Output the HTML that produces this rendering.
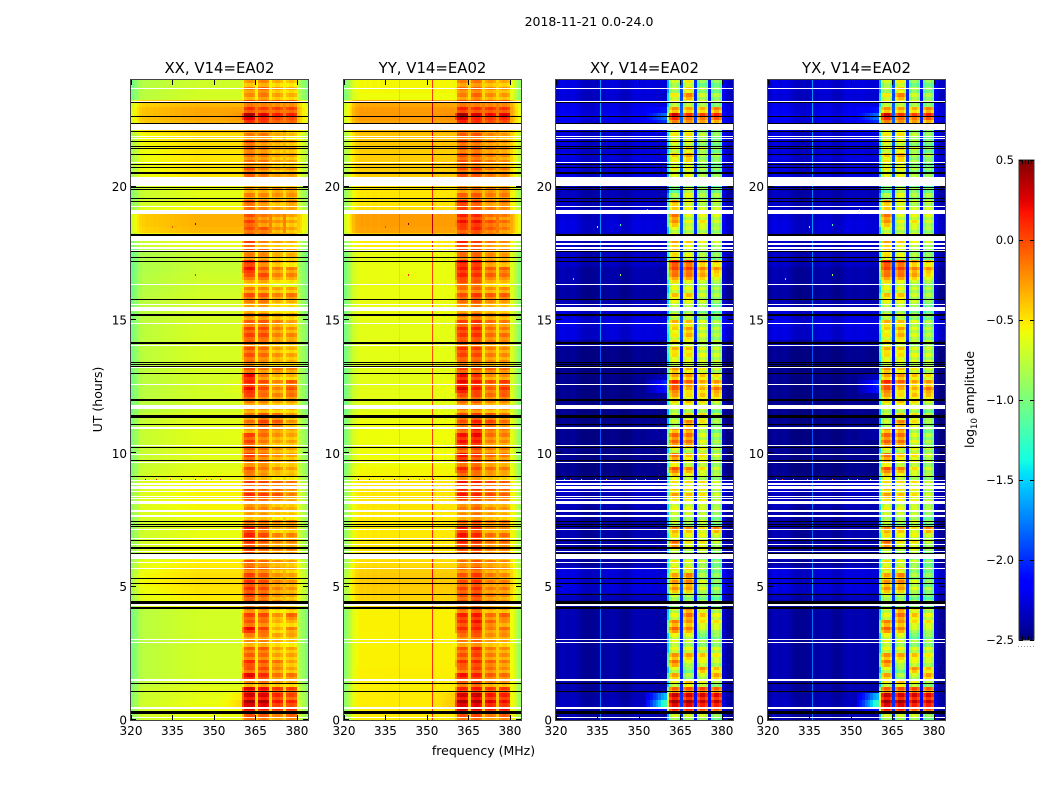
<!DOCTYPE html>
<html lang="en">
<head>
<meta charset="utf-8">
<title>2018-11-21 0.0-24.0</title>
<style>
html,body{margin:0;padding:0;background:#fff;width:1050px;height:800px;overflow:hidden}
svg{display:block}
text{font-family:"DejaVu Sans","Liberation Sans",sans-serif;fill:#000}
</style>
</head>
<body>
<svg id="chart" xmlns="http://www.w3.org/2000/svg" width="1050" height="800" viewBox="0 0 1050 800">
<rect x="0" y="0" width="1050" height="800" fill="#fff"/>
<text x="589" y="26" font-size="12.5" text-anchor="middle">2018-11-21 0.0-24.0</text>
<text x="483.5" y="755" font-size="12.5" text-anchor="middle">frequency (MHz)</text>
<text transform="translate(102,399.5) rotate(-90)" font-size="12.5" text-anchor="middle">UT (hours)</text>
<text transform="translate(974,399.5) rotate(-90)" font-size="12.5" text-anchor="middle">log<tspan dy="3" font-size="8.5">10</tspan><tspan dy="-3"> amplitude</tspan></text>
</svg>
<script>
// ---------- axis ticks and labels ----------
const panelTitles = ["XX, V14=EA02", "YY, V14=EA02", "XY, V14=EA02", "YX, V14=EA02"];
const freqTicks = [320, 335, 350, 365, 380];
const hourTicks = [0, 5, 10, 15, 20];
const colorbarTicks = [0.5, 0.0, -0.5, -1.0, -1.5, -2.0, -2.5];
const colorbarLabels = ["0.5", "0.0", "\u22120.5", "\u22121.0", "\u22121.5", "\u22122.0", "\u22122.5"];

// ---------- off-band log10 amplitude, one value per quarter hour (0h to 24h) ----------
const xxBgLevel = [
-.6,-.6,-.6,-.62,   -.62,-.65,-.68,-.68,  -.68,-.68,-.68,-.68,  -.68,-.68,-.68,-.68,
-.68,-.55,-.52,-.5, -.48,-.48,-.5,-.52,   -.58,-.58,-.58,-.6,   -.6,-.6,-.58,-.55,
-.55,-.55,-.55,-.55,-.6,-.62,-.63,-.63,   -.63,-.63,-.63,-.63,  -.63,-.63,-.68,-.68,
-.68,-.68,-.68,-.68,-.67,-.67,-.67,-.67,  -.67,-.67,-.67,-.67,  -.68,-.68,-.68,-.68,
-.7,-.7,-.7,-.72,   -.72,-.72,-.72,-.62,  -.5,-.35,-.33,-.33,   -.55,-.6,-.62,-.62,
-.6,-.5,-.5,-.5,    -.5,-.5,-.48,-.48,    -.4,-.32,-.3,-.3,     -.35,-.68,-.68,-.7];
const yyBgLevel = [
-.52,-.52,-.52,-.52,-.53,-.53,-.53,-.53,  -.54,-.54,-.54,-.54,  -.54,-.54,-.54,-.54,
-.54,-.46,-.44,-.42,-.41,-.41,-.43,-.47,  -.5,-.5,-.51,-.51,    -.51,-.51,-.51,-.5,
-.5,-.5,-.5,-.5,    -.55,-.56,-.58,-.58,  -.58,-.58,-.58,-.58,  -.58,-.58,-.62,-.62,
-.62,-.62,-.62,-.62,-.62,-.62,-.62,-.62,  -.62,-.62,-.62,-.62,  -.6,-.6,-.6,-.6,
-.6,-.6,-.6,-.6,    -.6,-.6,-.58,-.52,    -.42,-.28,-.27,-.27,  -.47,-.5,-.5,-.5,
-.5,-.42,-.42,-.42, -.42,-.42,-.4,-.4,    -.35,-.28,-.26,-.26,  -.3,-.58,-.56,-.56];
const xyBgLevel = [
-2.42,-2.4,-2.38,-2.4, -2.42,-2.42,-2.42,-2.42, -2.42,-2.42,-2.42,-2.42, -2.42,-2.42,-2.42,-2.42,
-2.42,-2.42,-2.38,-2.3, -2.3,-2.3,-2.3,-2.42,   -2.42,-2.42,-2.42,-2.42, -2.42,-2.42,-2.42,-2.42,
-2.38,-2.38,-2.35,-2.35,-2.5,-2.5,-2.5,-2.5,    -2.5,-2.5,-2.5,-2.5,     -2.5,-2.5,-2.5,-2.5,
-2.5,-2.5,-2.5,-2.5,   -2.5,-2.5,-2.5,-2.5,     -2.42,-2.3,-2.3,-2.28,   -2.3,-2.32,-2.4,-2.45,
-2.45,-2.42,-2.42,-2.42,-2.36,-2.36,-2.36,-2.36,-2.36,-2.3,-2.3,-2.32,   -2.36,-2.36,-2.38,-2.38,
-2.38,-2.3,-2.3,-2.3,  -2.3,-2.3,-2.3,-2.3,     -2.3,-2.26,-2.24,-2.26,  -2.28,-2.32,-2.3,-2.3];

// ---------- sub-band log10 amplitude (361-365, 366-370, 371-375, 376-380 MHz), per quarter hour ----------
const xxBand1 = [
-.1,.18,.32,.2,   .18,-.3,.15,-.1,  .02,-.15,-.15,-.3, -.25,.12,-.1,-.05,
-.2,-.1,-.05,0,   0,-.05,-.15,-.1,  -.3,0,0,.05,       .05,-.15,-.35,-.25,
-.2,0,-.05,-.05,  -.25,-.1,-.2,-.05,-.1,-.05,-.05,-.3, -.2,-.25,-.3,-.25,
-.05,.12,.05,.12, -.1,-.2,-.1,-.1,  -.15,-.05,-.05,-.15,-.25,-.3,-.25,-.1,
-.25,-.4,-.1,.1,  .05,-.25,-.15,-.05,-.15,-.1,-.05,-.1, -.2,-.1,-.25,-.3,
-.3,-.15,-.1,-.2, -.2,-.15,-.1,-.25,-.2,0,.3,0,        -.1,-.3,-.25,-.35];
const xxBand2 = [
-.1,.12,.32,.2,   .15,-.2,.05,-.05, -.05,-.15,-.1,-.25,-.2,-.03,-.15,-.05,
-.2,-.1,-.1,-.05, -.05,-.1,-.15,-.15,-.3,-.1,-.1,-.05, -.1,-.15,-.3,-.25,
-.2,-.02,-.1,-.05,-.3,-.2,-.15,-.15,-.15,-.2,-.15,-.1, -.02,-.1,-.3,-.25,
-.15,-.05,-.05,-.2,-.2,-.25,-.15,-.15,-.2,-.05,-.05,-.1,-.2,-.3,-.2,-.1,
-.25,-.35,-.05,-.1,-.15,-.25,-.15,-.25,-.2,-.1,-.2,-.2, -.25,-.2,-.25,-.25,
-.3,-.2,-.2,-.2,  -.2,-.2,-.2,-.2,  -.2,0,.18,-.02,    -.1,-.2,-.15,-.25];
const xxBand3 = [
-.2,.1,.15,.1,    .05,-.3,-.15,-.2, -.15,-.3,-.3,-.35, -.3,-.35,-.35,-.25,
-.4,-.2,-.25,-.2, -.2,-.25,-.3,-.25,-.35,-.15,-.2,-.2,  -.35,-.2,-.4,-.3,
-.3,-.05,-.1,-.1, -.4,-.25,-.3,-.25,-.25,-.3,-.25,-.2,  -.05,-.15,-.35,-.3,
-.2,-.2,-.2,-.35, -.15,-.35,-.25,-.3,-.3,-.2,-.2,-.2,   -.3,-.4,-.35,-.2,
-.3,-.5,-.2,-.2,  -.3,-.35,-.25,-.3,-.3,-.25,-.25,-.25, -.3,-.3,-.25,-.2,
-.3,-.3,-.3,-.3,  -.3,-.3,-.25,-.35,-.25,-.1,.12,0,     -.1,-.3,-.3,-.35];
const xxBand4 = [
-.1,.1,.1,0,      .02,-.35,-.15,-.3,-.3,-.3,-.3,-.4,    -.3,-.2,-.35,-.1,
-.35,-.3,-.3,-.25,-.25,-.3,-.35,-.3,-.35,-.15,-.2,-.2,  -.3,-.2,-.4,-.35,
-.3,-.2,-.2,-.15, -.4,-.3,-.3,-.3, -.3,-.3,-.3,-.25,    -.25,-.3,-.35,-.3,
-.15,-.05,-.05,-.35,-.2,-.35,-.3,-.35,-.3,-.2,-.25,-.3, -.35,-.4,-.35,-.15,
-.3,-.5,-.2,-.2,  -.4,-.35,-.3,-.35,-.35,-.3,-.3,-.3,   -.3,-.2,-.25,-.2,
-.3,-.3,-.25,-.3, -.3,-.3,-.3,-.4, -.3,-.1,.1,0,        -.1,-.35,-.35,-.4];
const yyBand1 = [
-.1,.25,.3,.2,    .05,-.15,.1,-.15, 0,-.1,-.1,-.25,     -.2,.02,0,.05,
-.15,-.1,-.1,-.05,-.08,-.12,-.2,-.2,-.25,-.05,.05,.1,   .05,-.15,-.3,-.25,
-.2,.08,.05,.08,  -.2,.05,-.1,.1,  -.1,.1,.1,-.1,       -.1,-.1,-.25,-.2,
-.1,.18,.15,.12,  -.05,-.15,-.05,0,-.1,-.02,.02,-.05,   -.2,-.25,-.2,-.1,
-.2,-.1,.05,.08,  .12,-.2,-.1,.05, -.1,-.05,.1,.05,     -.05,.05,-.15,-.25,
-.2,-.1,-.1,-.1,  -.1,-.15,-.1,-.15,-.1,.05,.32,.05,    -.1,-.25,-.2,-.25];
const yyBand2 = [
-.05,.22,.3,.25,  .1,-.05,.08,-.02,.05,-.02,.05,-.15,   -.1,.08,.12,.1,
-.05,-.02,0,.02,  .02,0,-.08,-.1,  -.2,0,.02,.05,       .02,-.05,-.2,-.15,
-.1,.05,.02,.05,  -.2,-.05,-.05,0, -.05,.1,.15,.12,     .08,-.02,-.2,-.15,
-.05,.08,.1,.02,  -.1,-.15,-.05,-.02,-.1,.02,.05,.02,   -.12,-.2,-.1,0,
-.15,-.1,.02,.05, .1,-.15,-.05,-.02,-.1,.05,.12,.05,    -.1,-.02,-.1,-.15,
-.2,-.1,-.05,-.1, -.1,-.1,-.1,-.1, -.1,.02,.2,.02,      -.1,-.15,-.15,-.2];
const yyBand3 = [
-.2,.12,.2,.12,   .02,-.25,-.1,-.15,-.1,-.2,-.2,-.3,    -.25,-.2,-.12,-.15,
-.3,-.2,-.2,-.2,  -.2,-.2,-.25,-.2,-.3,-.15,-.15,-.15,  -.25,-.2,-.3,-.25,
-.25,-.05,-.05,-.05,-.3,-.15,-.2,-.15,-.2,-.2,-.15,-.1,  -.02,-.1,-.3,-.25,
-.15,-.1,-.05,-.25,-.1,-.25,-.2,-.2,-.2,-.15,-.15,-.15, -.25,-.3,-.25,-.1,
-.25,-.35,-.1,-.1,-.2,-.25,-.2,-.2,-.2,-.1,-.05,-.15,   -.2,-.2,-.2,-.15,
-.25,-.2,-.2,-.2, -.2,-.2,-.2,-.25,-.2,-.05,.15,.02,    -.1,-.25,-.25,-.3];
const yyBand4 = [
-.1,.18,.15,.1,   .02,-.3,-.15,-.25,-.2,-.25,-.25,-.35, -.25,-.15,-.25,-.1,
-.3,-.25,-.25,-.2,-.2,-.25,-.3,-.25,-.3,-.15,-.12,-.15, -.25,-.15,-.35,-.3,
-.25,-.12,-.12,-.1,-.35,-.2,-.25,-.2,-.2,-.25,-.2,-.15,  -.15,-.2,-.3,-.25,
-.1,.02,.02,-.25, -.15,-.25,-.25,-.25,-.25,-.15,-.2,-.2, -.3,-.35,-.3,-.1,
-.25,-.4,-.15,-.1,-.3,-.3,-.25,-.25,-.3,-.2,-.15,-.2,   -.25,-.15,-.2,-.15,
-.25,-.25,-.2,-.25,-.25,-.25,-.25,-.3,-.25,-.05,.2,.02, -.1,-.3,-.3,-.35];
const xyBand1 = [
-.8,.1,.3,.2,     -.2,-.7,-.4,-.75, -.25,-.35,-.7,-.7,  -.7,-.2,-.3,-.7,
-.75,-.9,-.8,-.35,-.35,-.4,-.6,-.6, -.8,-.7,-.2,-.6,    -.3,-.8,-.8,-.7,
-.65,-.4,-.5,-.6, -.55,-.15,-.5,-.25,-.7,-.2,-.2,-.35,  -.8,-.8,-.8,-.6,
-.4,-.15,0,-.4,   -.35,-.7,-.6,-.45,-.6,-.65,-.55,-.45, -.75,-.85,-.7,-.5,
-.7,-.6,-.25,-.1, 0,-.6,-.5,-.4,   -.7,-.75,-.35,-.25,  -.55,-.4,-.9,-1.1,
-.9,-.75,-.65,-.65,-.55,-.7,-.65,-.65,-.55,-.3,.15,-.35,-.7,-.65,-.85,-.8];
const xyBand2 = [
-.8,.05,.3,.15,   -.15,-.5,-.9,-1,  -.75,-.4,-.7,-.8,   -.75,-.3,-.35,-.25,
-.3,-.9,-.9,-.4,  -.3,-.3,-.6,-.7,  -.8,-.8,-.6,-.7,    -.35,-.9,-.8,-.7,
-.7,-.5,-.6,-.6,  -.7,-.3,-.7,-.5,  -.8,-.25,-.25,-.3,  -.3,-.6,-.8,-.5,
-.6,-.45,-.2,-.35,-.5,-.7,-.6,-.5,  -.7,-.45,-.4,-.5,   -.75,-.85,-.7,-.5,
-.7,-.7,-.25,-.1, -.1,-.7,-.75,-.55,-.75,-.8,-.7,-.75,  -.7,-.65,-.7,-.75,
-.9,-.7,-.65,-.6, -.4,-.55,-.7,-.6, -.55,-.35,-.05,-.4, -.7,-.3,-.55,-.65];
const xyBand3 = [
-.9,-.2,.1,.05,   -.2,-.8,-.9,-.45, -.8,-.6,-.85,-1,    -1.2,-.9,-.7,-.6,
-.7,-1,-1.1,-.85, -.85,-1,-1,-.9,   -1,-.8,-.7,-.8,     -.7,-.9,-.9,-.9,
-.75,-.7,-.7,-.7, -.9,-.7,-.8,-.7,  -.8,-.8,-.85,-.9,   -.7,-.7,-.9,-.7,
-.6,-.55,-.5,-.6, -.75,-.85,-.8,-.85,-.95,-.85,-.85,-.85,-1,-1.1,-.9,-.9,
-.9,-.9,-.5,-.4,  -.5,-1,-1,-.8,    -.8,-.9,-.7,-.8,    -.9,-.9,-1,-1,
-1.1,-1,-1,-1,    -1,-.9,-1,-.95,   -.95,-.5,-.2,-.55,  -.85,-.9,-1,-1.1];
const xyBand4 = [
-1.1,-.2,.1,0,    -.3,-1,-.5,-.6,   -.9,-.75,-.85,-1,   -1.1,-.9,-.7,-.8,
-.9,-1.1,-1.2,-1, -1.1,-1.1,-1.1,-1.1,-1.2,-1,-.9,-.9,  -.4,-1.1,-1.1,-1,
-.9,-.9,-.9,-.9,  -1,-.9,-.95,-.9,  -.95,-1,-1,-1.1,    -1,-.95,-1.1,-.9,
-.6,-.35,-.45,-.7,-.9,-.9,-.9,-.9,  -.95,-1,-.95,-1,    -1.1,-1.2,-1.1,-1,
-1,-1,-.7,-.45,   -.6,-1.1,-1.1,-.9,-1,-1,-.9,-.85,     -.9,-.9,-1,-1.1,
-1.2,-1.1,-1.1,-1.1,-1,-1.1,-1.1,-1.1,-1,-.55,-.1,-.4,  -1,-1,-1.1,-1.1];

// ---------- per-channel offsets (one value per MHz channel, 320 to 383 MHz) ----------
const xxProfile = [
-.35,-.25,-.18,-.12,-.1,-.08,-.08,-.08,-.07,-.07,-.06,-.06,-.05,-.05,-.04,-.04,
-.03,-.03,-.02,-.02,-.02,-.01,-.01,0,0,0,0,0,0,0,0,0,
0,0,0,0,0,0,0,0,0,0,0,0,0,.15,0,0,
0,0,.15,0,0,0,0,.15,0,0,0,0,-.08,-.14,-.22,-.32];
const yyProfile = [
-.4,-.3,-.2,-.1,-.03,-.01,0,-.01,0,-.01,0,0,-.01,0,0,0,
0,0,0,0,0,0,0,0,0,0,0,0,0,0,0,0,
0,0,0,0,0,0,0,0,0,0,0,0,0,.12,0,0,
0,0,.12,0,0,0,0,.12,0,0,0,0,-.04,-.12,-.22,-.34];
const xyProfile = [
-.02,.06,.08,.06,.04,.06,.07,.04,.02,-.02,-.02,-.03,-.03,-.02,-.02,0,
0,0,.03,.03,.05,.03,.03,0,-.02,-.02,0,.04,.05,.06,.05,.04,
.06,.05,.05,.04,.03,.03,.03,.03,0,0,0,0,0,.4,0,0,
0,0,.3,0,0,0,0,.22,0,0,0,0,.12,.03,0,-.03];
const bandShapeCo = [-.02, .03, .03, -.03];
const bandShapeCross = [-.12, .05, .05, -.1];
const stripeCo = [.07, -.07];
const stripeCross = [.09, -.09];
const bandShiftXX = [0, -.03, -.06, -.06];
const bandShiftYY = [0, -.02, -.04, -.04];
const bandShiftCross = [0, 0, .1, .1];

// ---------- thin single-frequency lines ----------
const thinFreqCo = [];
const thinRiseCo = [];
const thinFreqYY = [340, 351.9];
const thinRiseYY = [.14, .62];
const thinFreqCross = [336];
const thinRiseCross = [.62];

// ---------- shoulder rising toward the 361 MHz band edge ----------
const shoulderByRow = [
0,.3,1.1,.8, 0,0,0,0, 0,0,0,0, 0,0,0,0,
0,0,0,0, 0,0,0,0, 0,0,0,0, 0,0,0,0,
0,0,0,0, 0,0,0,0, 0,0,.08,.08, 0,0,0,0,
.08,.4,.45,.15, 0,0,0,0, 0,0,0,0, 0,0,0,0,
0,0,0,0, 0,0,0,0, 0,0,0,0, 0,0,0,0,
0,0,0,0, 0,0,0,0, .1,.25,.4,.15, 0,0,0,0];
const shoulderShape = [.15, .25, .35, .5, .6, .75, .9, 1.0];

// ---------- flagged time ranges in hours ----------
const whiteStart = [23.66,23.18,22.14,21.86,21.79,20.89,20.04,19.22,18.99,17.96,17.83,17.68,17.60,16.32,15.55,15.33,14.85,14.03,13.20,12.55,11.66,10.93,10.28,9.94,9.64,8.96,8.83,8.65,8.54,8.36,8.30,8.11,7.79,7.63,7.14,6.79,6.55,6.30,6.04,5.88,5.65,4.28,3.00,2.89,1.46,0.42,0.08];
const whiteEnd   = [23.70,23.21,22.35,21.90,21.83,20.93,20.37,19.26,19.14,18.14,17.87,17.72,17.63,16.36,15.59,15.49,14.89,14.06,13.24,12.59,11.80,10.97,10.31,9.98,9.68,9.00,8.87,8.79,8.58,8.40,8.34,8.20,7.88,7.67,7.18,6.83,6.60,6.34,6.24,5.93,5.70,4.35,3.04,2.93,1.52,0.47,0.11];
const blackHour  = [23.16,22.64,22.38,22.08,21.70,21.51,21.44,21.21,20.82,20.73,20.52,19.96,19.90,19.56,19.46,18.19,17.58,17.36,17.21,15.78,15.19,14.14,13.40,13.32,13.25,13.00,12.01,11.97,11.37,11.09,10.23,9.74,9.14,7.44,7.32,7.25,6.74,6.45,6.25,5.31,5.13,4.71,4.41,4.21,1.38,1.06,0.29];
const blackSpan  = [.04,.04,.04,.04,.04,.04,.04,.04,.04,.04,.075,.04,.04,.04,.04,.075,.04,.04,.04,.04,.075,.06,.04,.04,.04,.04,.04,.04,.11,.04,.04,.04,.04,.04,.04,.04,.04,.04,.04,.04,.04,.04,.11,.075,.04,.04,.11];

// ---------- isolated bright samples ----------
const speckHourCo  = [9.03,9.03,9.03,9.03,9.03,9.03,9.03,9.03,18.64,18.53,16.72,15.5];
const speckFreqCo  = [325,329,334,338,343,347,349,352,343,335,343,343];
const speckValueCo = [.5,.3,0,.5,.5,0,0,.2,.5,0,.1,0];
const speckHourCross  = [9.03,9.03,9.03,9.03,9.03,9.03,9.03,9.03,9.03,15.5,18.53,18.6,16.58,16.72,19.15];
const speckFreqCross  = [323,325,329,334,338,343,349,352,357,343,335,343,326,343,353];
const speckValueCross = [-1.3,0,-.9,-1.2,-.5,-.1,-1.2,-.6,-.6,-.5,-.6,-1.2,-1.3,-.9,-1.3];

// ---------- layout ----------
const panelLeft = [131, 344, 556, 768];
const panelWidth = 177, axisTop = 80, axisBottom = 720;
const freqMin = 320, freqMax = 384, hourMin = 0, hourMax = 24;
const vMin = -2.5, vMax = 0.5;
const cbLeft = 1019, cbRight = 1034, cbTop = 160, cbBottom = 640;
const NS = "http://www.w3.org/2000/svg";
const svg = document.getElementById("chart");

function xScale(p, f) { return panelLeft[p] + (f - freqMin) / (freqMax - freqMin) * panelWidth; }
function yScale(h) { return axisBottom - (h - hourMin) / (hourMax - hourMin) * (axisBottom - axisTop); }
function cbScale(v) { return cbTop + (vMax - v) / (vMax - vMin) * (cbBottom - cbTop); }

function ramp(t, pts) {
  for (let i = 1; i < pts.length; i++) {
    if (t <= pts[i][0]) {
      const a = pts[i - 1], b = pts[i];
      return a[1] + (b[1] - a[1]) * (t - a[0]) / (b[0] - a[0]);
    }
  }
  return pts[pts.length - 1][1];
}
function jet(v) {
  const t = Math.max(0, Math.min(1, (v - vMin) / (vMax - vMin)));
  const r = ramp(t, [[0,0],[.35,0],[.66,1],[.89,1],[1,.5]]);
  const g = ramp(t, [[0,0],[.125,0],[.375,1],[.64,1],[.91,0],[1,0]]);
  const b = ramp(t, [[0,.5],[.11,1],[.34,1],[.65,0],[1,0]]);
  return "rgb(" + Math.round(r * 255) + "," + Math.round(g * 255) + "," + Math.round(b * 255) + ")";
}
function make(tag, attrs, parent) {
  const el = document.createElementNS(NS, tag);
  for (const k in attrs) el.setAttribute(k, attrs[k]);
  parent.appendChild(el);
  return el;
}

const panels = [
  { bg: xxBgLevel, bands: [xxBand1, xxBand2, xxBand3, xxBand4], shift: bandShiftXX, profile: xxProfile, shape: bandShapeCo, stripe: stripeCo, edgeDrop: .3, shoulder: .12, thinF: thinFreqCo, thinR: thinRiseCo, sh: speckHourCo, sf: speckFreqCo, sv: speckValueCo },
  { bg: yyBgLevel, bands: [yyBand1, yyBand2, yyBand3, yyBand4], shift: bandShiftYY, profile: yyProfile, shape: bandShapeCo, stripe: stripeCo, edgeDrop: .3, shoulder: .1, thinF: thinFreqYY, thinR: thinRiseYY, sh: speckHourCo, sf: speckFreqCo, sv: speckValueCo },
  { bg: xyBgLevel, bands: [xyBand1, xyBand2, xyBand3, xyBand4], shift: bandShiftCross, profile: xyProfile, shape: bandShapeCross, stripe: stripeCross, edgeDrop: .8, shoulder: 1, thinF: thinFreqCross, thinR: thinRiseCross, sh: speckHourCross, sf: speckFreqCross, sv: speckValueCross },
  { bg: xyBgLevel, bands: [xyBand1, xyBand2, xyBand3, xyBand4], shift: bandShiftCross, profile: xyProfile, shape: bandShapeCross, stripe: stripeCross, edgeDrop: .8, shoulder: 1, thinF: thinFreqCross, thinR: thinRiseCross, sh: speckHourCross, sf: speckFreqCross, sv: speckValueCross }
];

function drawCell(parent, p, ch, h0, h1, v) {
  const x0 = Math.round(xScale(p, freqMin + ch)), x1 = Math.round(xScale(p, freqMin + ch + 1));
  const y0 = Math.round(yScale(h1)), y1 = Math.round(yScale(h0));
  const c = document.createElementNS(NS, "rect");
  c.setAttribute("x", x0);
  c.setAttribute("y", y0);
  c.setAttribute("width", x1 - x0);
  c.setAttribute("height", y1 - y0);
  c.setAttribute("fill", jet(v));
  
  
  parent.appendChild(c);
}

panels.forEach(function (P, p) {
  const g = document.createElementNS(NS, "g");
  
  
  g.setAttribute("shape-rendering", "crispEdges");
  const rows = P.bg.length;
  const rowHours = (hourMax - hourMin) / rows;
  for (let r = 0; r < rows; r++) {
    const h0 = hourMin + r * rowHours, h1 = h0 + rowHours;
    for (let ch = 0; ch < freqMax - freqMin; ch++) {
      let band = -1, pos = 0;
      if (ch >= 41 && ch < 60 && (ch - 41) % 5 !== 4) { band = Math.floor((ch - 41) / 5); pos = (ch - 41) % 5; }
      if (band >= 0) {
        const hm = (h0 + h1) / 2;
        const level = P.bands[band][r] + P.shift[band] + P.shape[pos];
        drawCell(g, p, ch, hm, h1, level + P.stripe[0]);
        drawCell(g, p, ch, h0, hm, level + P.stripe[1]);
      } else if (ch === 40) {
        drawCell(g, p, ch, h0, h1, Math.max(P.bg[r] + P.profile[ch], P.bands[0][r] - P.edgeDrop));
      } else {
        let v = P.bg[r] + P.profile[ch];
        if (ch >= 32 && ch < 40) v += shoulderByRow[r] * P.shoulder * shoulderShape[ch - 32];
        drawCell(g, p, ch, h0, h1, v);
      }
    }
    // thin single-frequency lines
    P.thinF.forEach(function (f, i) {
      const y0 = Math.round(yScale(h1)), y1 = Math.round(yScale(h0));
      const t = document.createElementNS(NS, "rect");
      t.setAttribute("x", Math.round(xScale(p, f)));
      t.setAttribute("y", y0);
      t.setAttribute("width", 1);
      t.setAttribute("height", y1 - y0);
      t.setAttribute("fill", jet(P.bg[r] + P.thinR[i]));
      
      
      g.appendChild(t);
    });
  }
  // isolated samples
  P.sh.forEach(function (h, i) {
    const s = document.createElementNS(NS, "rect");
    s.setAttribute("x", Math.round(xScale(p, P.sf[i])));
    s.setAttribute("y", Math.round(yScale(h)));
    s.setAttribute("width", 1);
    s.setAttribute("height", 2);
    s.setAttribute("fill", jet(P.sv[i]));
    
    
    g.appendChild(s);
  });
  // flagged white gaps
  whiteStart.forEach(function (h, i) {
    const y0 = Math.round(yScale(whiteEnd[i])), y1 = Math.round(yScale(h));
    const w = document.createElementNS(NS, "rect");
    w.setAttribute("x", panelLeft[p]);
    w.setAttribute("y", y0);
    w.setAttribute("width", panelWidth);
    w.setAttribute("height", Math.max(1, y1 - y0));
    w.setAttribute("fill", "#fff");
    
    
    g.appendChild(w);
  });
  // black zero-amplitude lines
  blackHour.forEach(function (h, i) {
    const y0 = Math.round(yScale(h + blackSpan[i] / 2)), y1 = Math.round(yScale(h - blackSpan[i] / 2));
    const b = document.createElementNS(NS, "rect");
    b.setAttribute("x", panelLeft[p]);
    b.setAttribute("y", y0);
    b.setAttribute("width", panelWidth);
    b.setAttribute("height", Math.max(1, y1 - y0));
    b.setAttribute("fill", "#000");
    
    
    g.appendChild(b);
  });
  // ticks
  freqTicks.forEach(function (f) {
    const x = Math.round(xScale(p, f)) + .5;
    const t1 = make("line", { x1: x, x2: x, y1: axisTop, y2: axisTop + 5, stroke: "#000", "stroke-width": 1 }, g);
    
    
    const t2 = make("line", { x1: x, x2: x, y1: axisBottom - 5, y2: axisBottom, stroke: "#000", "stroke-width": 1 }, g);
    
    
  });
  hourTicks.forEach(function (h) {
    const y = Math.round(yScale(h)) - .5;
    const l = panelLeft[p], rr = panelLeft[p] + panelWidth;
    const t1 = make("line", { x1: l, x2: l + 5, y1: y, y2: y, stroke: "#000", "stroke-width": 1 }, g);
    
    
    const t2 = make("line", { x1: rr - 5, x2: rr, y1: y, y2: y, stroke: "#000", "stroke-width": 1 }, g);
    
    
  });
  const frame = make("rect", { x: panelLeft[p] - .5, y: axisTop - .5, width: panelWidth + 1, height: axisBottom - axisTop + 1, fill: "none", stroke: "#444", "stroke-width": 1 }, g);
  
  
  svg.appendChild(g);

  // labels
  const title = make("text", { x: panelLeft[p] + panelWidth / 2, y: 73, "font-size": 14.9, "text-anchor": "middle" }, svg);
  title.textContent = panelTitles[p];
  
  
  freqTicks.forEach(function (f) {
    const t = make("text", { x: xScale(p, f), y: 735, "font-size": 12, "text-anchor": "middle" }, svg);
    t.textContent = String(f);
    
    
  });
  hourTicks.forEach(function (h) {
    const t = make("text", { x: panelLeft[p] - 4, y: yScale(h) + 4.5, "font-size": 12, "text-anchor": "end" }, svg);
    t.textContent = String(h);
    
    
  });
});

// ---------- colorbar ----------
const defs = make("defs", {}, svg);
const grad = make("linearGradient", { id: "jetGradient", x1: 0, y1: 0, x2: 0, y2: 1 }, defs);
const stopCount = 64;
for (let i = 0; i <= stopCount; i++) {
  make("stop", { offset: i / stopCount, "stop-color": jet(vMax - (vMax - vMin) * i / stopCount) }, grad);
}
const cb = make("rect", { x: cbLeft, y: cbTop, width: cbRight - cbLeft, height: cbBottom - cbTop, fill: "url(#jetGradient)", stroke: "#333", "stroke-width": 1 }, svg);


colorbarTicks.forEach(function (v, i) {
  const y = Math.round(cbScale(v)) + .5;
  const a = make("line", { x1: cbLeft, x2: cbLeft + 4, y1: y, y2: y, stroke: "#000" }, svg);
  
  
  const b = make("line", { x1: cbRight - 4, x2: cbRight, y1: y, y2: y, stroke: "#000" }, svg);
  
  
  const t = make("text", { x: cbLeft - 5, y: cbScale(v) + 4, "font-size": 11.5, "text-anchor": "end" }, svg);
  t.textContent = colorbarLabels[i];
  
  
});
for (let i = 1; i < 5; i++) {
  const x = cbLeft + i * 3 + .5;
  const a = make("line", { x1: x, x2: x, y1: cbTop, y2: cbTop + 4, stroke: "#000" }, svg);
  
  
  const b = make("line", { x1: x, x2: x, y1: cbBottom - 4, y2: cbBottom, stroke: "#000" }, svg);
  
  
}
const dots = make("line", { x1: cbLeft - 1, x2: cbRight + 1, y1: 646.5, y2: 646.5, stroke: "#999", "stroke-width": 1, "stroke-dasharray": "1 2" }, svg);


</script>
</body>
</html>
